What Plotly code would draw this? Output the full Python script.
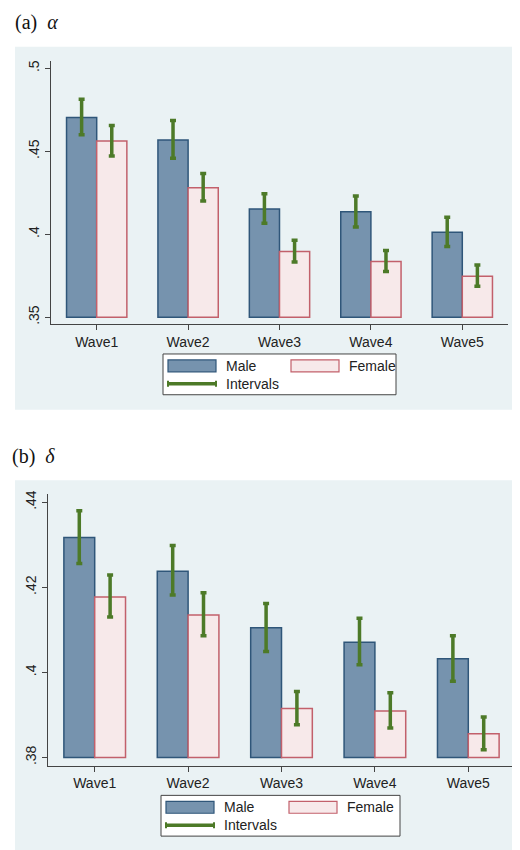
import plotly.graph_objects as go

waves = ["Wave1", "Wave2", "Wave3", "Wave4", "Wave5"]

# panel (a) alpha
a_male = [0.4704, 0.4568, 0.4152, 0.4136, 0.4012]
a_male_hi = [0.4814, 0.4686, 0.4244, 0.4230, 0.4102]
a_male_lo = [0.4600, 0.4458, 0.4066, 0.4044, 0.3926]
a_female = [0.4562, 0.4280, 0.3896, 0.3836, 0.3746]
a_female_hi = [0.4656, 0.4366, 0.3964, 0.3902, 0.3814]
a_female_lo = [0.4472, 0.4200, 0.3832, 0.3776, 0.3686]

# panel (b) delta
b_male = [0.4317, 0.4238, 0.4105, 0.4071, 0.4032]
b_male_hi = [0.4380, 0.4298, 0.4162, 0.4127, 0.4086]
b_male_lo = [0.4256, 0.4182, 0.4049, 0.4018, 0.3979]
b_female = [0.4177, 0.4135, 0.3915, 0.3909, 0.3856]
b_female_hi = [0.4229, 0.4187, 0.3955, 0.3952, 0.3895]
b_female_lo = [0.4130, 0.4086, 0.3877, 0.3869, 0.3818]

MALE_FILL, MALE_LINE = "#7693ae", "#2f5679"
FEM_FILL, FEM_LINE = "#f7e9ea", "#c2606b"
GREEN = "#4d7a28"
PANEL_BG = "#eaf2f4"
W, H = 520, 850


def bar(name, y, hi, lo, base, fill, line, xa, ya):
    return go.Bar(
        x=waves, y=[v - base for v in y], base=base, name=name,
        marker=dict(color=fill, line=dict(color=line, width=1.5)),
        error_y=dict(type="data", symmetric=False,
                     array=[h - v for h, v in zip(hi, y)],
                     arrayminus=[v - l for v, l in zip(y, lo)],
                     color=GREEN, thickness=3.5, width=3),
        xaxis=xa, yaxis=ya, showlegend=False, offsetgroup=name)


fig = go.Figure()
fig.add_trace(bar("Male", a_male, a_male_hi, a_male_lo, 0.35, MALE_FILL, MALE_LINE, "x", "y"))
fig.add_trace(bar("Female", a_female, a_female_hi, a_female_lo, 0.35, FEM_FILL, FEM_LINE, "x", "y"))
fig.add_trace(bar("Male", b_male, b_male_hi, b_male_lo, 0.38, MALE_FILL, MALE_LINE, "x2", "y2"))
fig.add_trace(bar("Female", b_female, b_female_hi, b_female_lo, 0.38, FEM_FILL, FEM_LINE, "x2", "y2"))

axfont = dict(family="Liberation Sans, Arial", size=14, color="#222")
xcommon = dict(showline=True, linecolor="#444", linewidth=1.2, ticks="outside",
               ticklen=5, tickcolor="#444", tickfont=axfont, showgrid=False)
ycommon = dict(showline=True, linecolor="#444", linewidth=1.2, ticks="outside",
               ticklen=5, tickcolor="#444", tickfont=axfont, tickangle=-90,
               showgrid=True, gridcolor=PANEL_BG, gridwidth=1.5, zeroline=False)


def px(x):
    return x / W


def py(y):
    return 1 - y / H


fig.update_layout(
    width=W, height=H, margin=dict(l=0, r=0, t=0, b=0),
    paper_bgcolor="white", plot_bgcolor="white",
    barmode="group", bargap=0.34, bargroupgap=0,
    xaxis=dict(domain=[px(43), px(500)], anchor="y", **xcommon),
    yaxis=dict(domain=[py(314), py(49)], anchor="x", range=[0.3458, 0.5046],
               tickvals=[0.35, 0.4, 0.45, 0.5], ticktext=[".35", ".4", ".45", ".5"], **ycommon),
    xaxis2=dict(domain=[px(40), px(507)], anchor="y2", **xcommon),
    yaxis2=dict(domain=[py(758), py(485)], anchor="x2", range=[0.3781, 0.4419],
                tickvals=[0.38, 0.4, 0.42, 0.44], ticktext=[".38", ".4", ".42", ".44"], **ycommon),
)

shapes = []
annotations = []
# panel backgrounds
for y0, y1 in [(35, 400), (471, 848)]:
    shapes.append(dict(type="rect", xref="paper", yref="paper", x0=px(7), x1=px(513),
                       y0=py(y1), y1=py(y0), fillcolor=PANEL_BG, line_width=0, layer="below"))

# legends (manual boxes)
for top, left, right in [(344, 155, 388), (788, 153, 392)]:
    shapes.append(dict(type="rect", xref="paper", yref="paper", x0=px(left), x1=px(right),
                       y0=py(top + 41), y1=py(top), fillcolor="white",
                       line=dict(color="#444", width=1)))
    shapes.append(dict(type="rect", xref="paper", yref="paper", x0=px(left + 5), x1=px(left + 53),
                       y0=py(top + 18), y1=py(top + 6), fillcolor=MALE_FILL,
                       line=dict(color=MALE_LINE, width=1.2)))
    shapes.append(dict(type="rect", xref="paper", yref="paper", x0=px(left + 128), x1=px(left + 176),
                       y0=py(top + 18), y1=py(top + 6), fillcolor=FEM_FILL,
                       line=dict(color=FEM_LINE, width=1.2)))
    shapes.append(dict(type="line", xref="paper", yref="paper", x0=px(left + 5), x1=px(left + 53),
                       y0=py(top + 30), y1=py(top + 30), line=dict(color=GREEN, width=3.5)))
    for xe in (left + 5, left + 53):
        shapes.append(dict(type="line", xref="paper", yref="paper", x0=px(xe), x1=px(xe),
                           y0=py(top + 27), y1=py(top + 33), line=dict(color=GREEN, width=2)))
    for txt, tx, ty in [("Male", left + 61, top + 12), ("Female", left + 184, top + 12),
                        ("Intervals", left + 61, top + 30)]:
        annotations.append(dict(text=txt, xref="paper", yref="paper", x=px(tx), y=py(ty),
                                xanchor="left", yanchor="middle", showarrow=False, font=axfont))

# panel titles
serif = dict(family="Liberation Serif, Times New Roman", size=20, color="#111")
annotations.append(dict(text="(a)  <i>α</i>", xref="paper", yref="paper", x=px(5), y=py(11),
                        xanchor="left", yanchor="middle", showarrow=False, font=serif))
annotations.append(dict(text="(b)  <i>δ</i>", xref="paper", yref="paper", x=px(2), y=py(447),
                        xanchor="left", yanchor="middle", showarrow=False, font=serif))

fig.update_layout(shapes=shapes, annotations=annotations)
fig.write_html("out.html")
